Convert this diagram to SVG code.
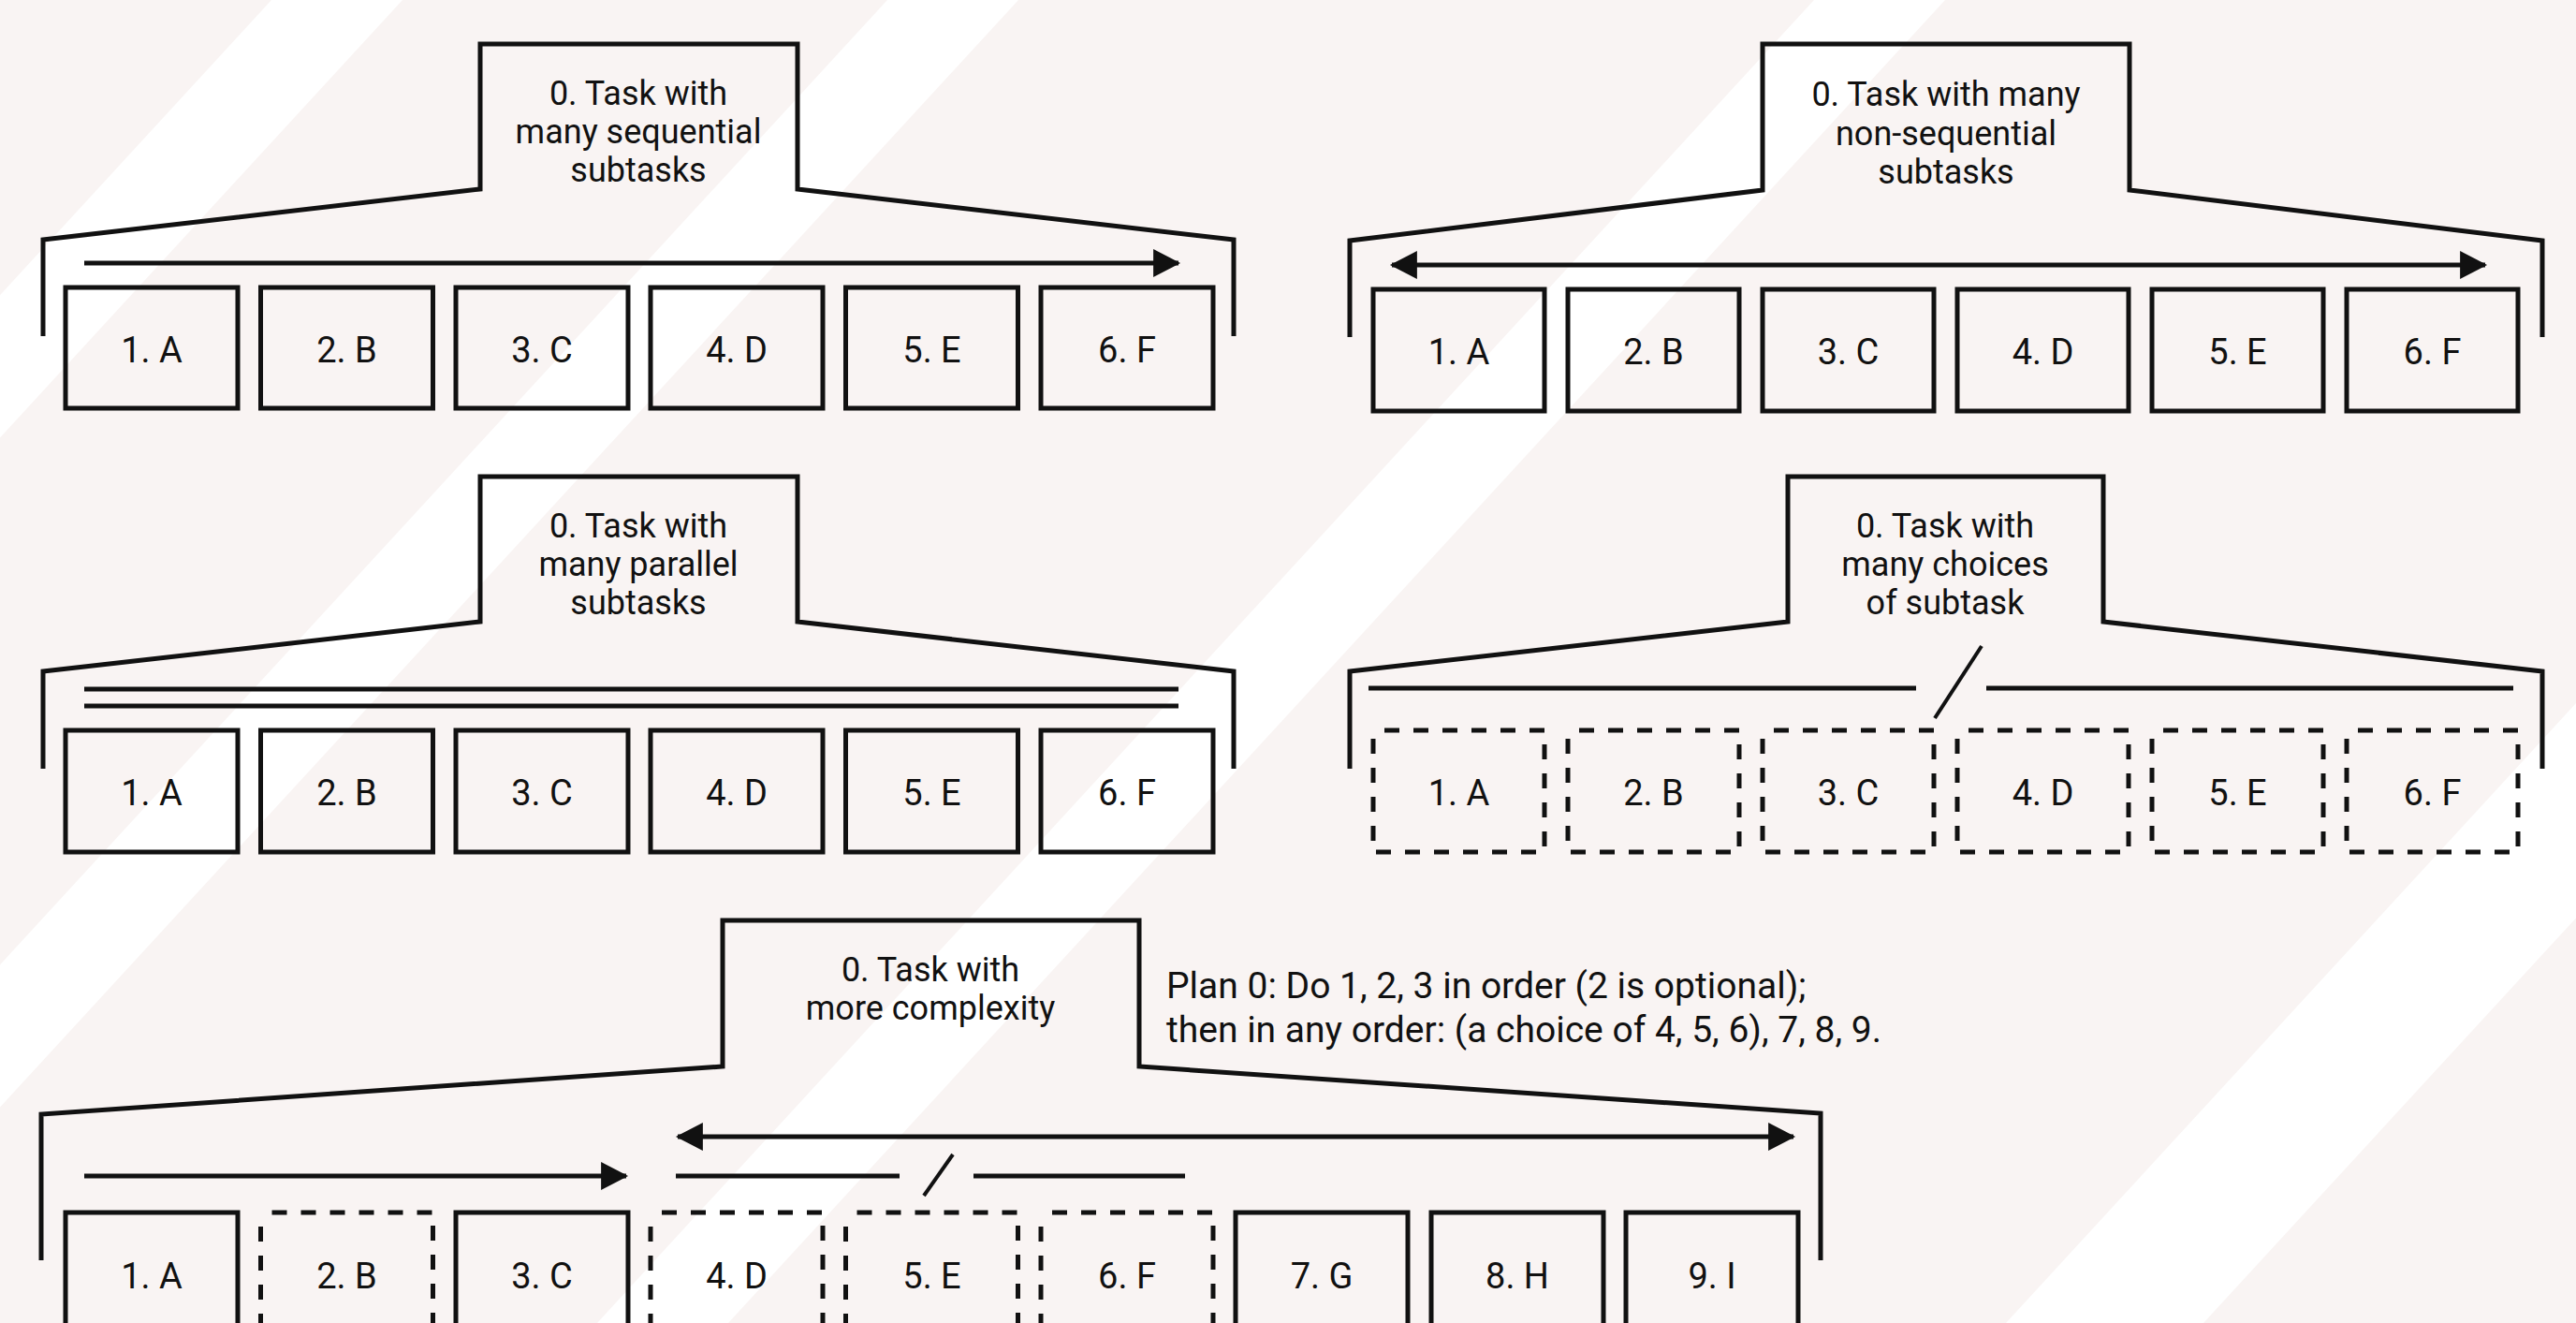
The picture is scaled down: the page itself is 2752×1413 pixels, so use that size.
<svg xmlns="http://www.w3.org/2000/svg" width="2752" height="1413" viewBox="0 0 2752 1413">
<style>
.ln{fill:none;stroke:#111;stroke-width:5;stroke-linejoin:miter}
.bx{fill:none;stroke:#111;stroke-width:5}
.dbx{fill:none;stroke:#111;stroke-width:5;stroke-dasharray:16 15;stroke-dashoffset:-12}
.sl{fill:none;stroke:#111;stroke-width:4}
.tt{font-family:Roboto,"Liberation Sans",sans-serif;font-size:36px;fill:#111;text-anchor:middle}
.lb{font-family:Roboto,"Liberation Sans",sans-serif;font-size:38px;fill:#111;text-anchor:middle}
.pl{font-family:Roboto,"Liberation Sans",sans-serif;font-size:39px;fill:#111}
.st{fill:#ffffff}
</style>
<defs>
<marker id="ah" markerUnits="userSpaceOnUse" markerWidth="30" markerHeight="30" viewBox="0 0 28 29" refX="26" refY="14.5" orient="auto-start-reverse">
<path d="M0,0 L28,14.5 L0,29 z" fill="#111"/>
</marker>
</defs>
<rect x="0" y="0" width="2752" height="1413" fill="#f9f4f3"/>
<g id="background-stripes">
<polygon class="st" points="290,0 430,0 -870,1413 -1010,1413"/>
<polygon class="st" points="948,0 1088,0 -212,1413 -352,1413"/>
<polygon class="st" points="1938,0 2078,0 778,1413 638,1413"/>
<polygon class="st" points="3443,0 3654,0 2354,1413 2143,1413"/>
</g>

<!-- Panel 1: sequential -->
<g id="p1-task">
<polyline class="ln" points="46,359 46,256 513,202 513,47 852,47 852,202 1318,256 1318,359"/>
<text class="tt" x="682" y="112">0. Task with</text>
<text class="tt" x="682" y="153">many sequential</text>
<text class="tt" x="682" y="194">subtasks</text>
</g>
<g id="p1-a"><rect class="bx" x="70" y="307" width="184" height="129"/><text class="lb" x="162" y="387">1. A</text></g>
<g id="p1-b"><rect class="bx" x="278.5" y="307" width="184" height="129"/><text class="lb" x="370.5" y="387">2. B</text></g>
<g id="p1-c"><rect class="bx" x="487" y="307" width="184" height="129"/><text class="lb" x="579" y="387">3. C</text></g>
<g id="p1-d"><rect class="bx" x="695" y="307" width="184" height="129"/><text class="lb" x="787" y="387">4. D</text></g>
<g id="p1-e"><rect class="bx" x="903.5" y="307" width="184" height="129"/><text class="lb" x="995.5" y="387">5. E</text></g>
<g id="p1-f"><rect class="bx" x="1112" y="307" width="184" height="129"/><text class="lb" x="1204" y="387">6. F</text></g>

<!-- Panel 2: non-sequential -->
<g id="p2-task">
<polyline class="ln" points="1442,360 1442,257 1883,203 1883,47 2275,47 2275,203 2716,257 2716,360"/>
<text class="tt" x="2079" y="113">0. Task with many</text>
<text class="tt" x="2079" y="155">non-sequential</text>
<text class="tt" x="2079" y="196">subtasks</text>
</g>
<g id="p2-a"><rect class="bx" x="1467" y="309" width="183" height="130"/><text class="lb" x="1558.5" y="389">1. A</text></g>
<g id="p2-b"><rect class="bx" x="1675" y="309" width="183" height="130"/><text class="lb" x="1766.5" y="389">2. B</text></g>
<g id="p2-c"><rect class="bx" x="1883" y="309" width="183" height="130"/><text class="lb" x="1974.5" y="389">3. C</text></g>
<g id="p2-d"><rect class="bx" x="2091" y="309" width="183" height="130"/><text class="lb" x="2182.5" y="389">4. D</text></g>
<g id="p2-e"><rect class="bx" x="2299" y="309" width="183" height="130"/><text class="lb" x="2390.5" y="389">5. E</text></g>
<g id="p2-f"><rect class="bx" x="2507" y="309" width="183" height="130"/><text class="lb" x="2598.5" y="389">6. F</text></g>

<!-- Panel 3: parallel -->
<g id="p3-task">
<polyline class="ln" points="46,821 46,717 513,664 513,509 852,509 852,664 1318,717 1318,821"/>
<text class="tt" x="682" y="574">0. Task with</text>
<text class="tt" x="682" y="615">many parallel</text>
<text class="tt" x="682" y="656">subtasks</text>
</g>
<g id="p3-a"><rect class="bx" x="70" y="780" width="184" height="130"/><text class="lb" x="162" y="860">1. A</text></g>
<g id="p3-b"><rect class="bx" x="278.5" y="780" width="184" height="130"/><text class="lb" x="370.5" y="860">2. B</text></g>
<g id="p3-c"><rect class="bx" x="487" y="780" width="184" height="130"/><text class="lb" x="579" y="860">3. C</text></g>
<g id="p3-d"><rect class="bx" x="695" y="780" width="184" height="130"/><text class="lb" x="787" y="860">4. D</text></g>
<g id="p3-e"><rect class="bx" x="903.5" y="780" width="184" height="130"/><text class="lb" x="995.5" y="860">5. E</text></g>
<g id="p3-f"><rect class="bx" x="1112" y="780" width="184" height="130"/><text class="lb" x="1204" y="860">6. F</text></g>

<!-- Panel 4: choices -->
<g id="p4-task">
<polyline class="ln" points="1442,821 1442,717 1910,664 1910,509 2247,509 2247,664 2716,717 2716,821"/>
<text class="tt" x="2078" y="574">0. Task with</text>
<text class="tt" x="2078" y="615">many choices</text>
<text class="tt" x="2078" y="656">of subtask</text>
</g>
<g id="p4-a"><rect class="dbx" x="1467" y="780" width="183" height="130"/><text class="lb" x="1558.5" y="860">1. A</text></g>
<g id="p4-b"><rect class="dbx" x="1675" y="780" width="183" height="130"/><text class="lb" x="1766.5" y="860">2. B</text></g>
<g id="p4-c"><rect class="dbx" x="1883" y="780" width="183" height="130"/><text class="lb" x="1974.5" y="860">3. C</text></g>
<g id="p4-d"><rect class="dbx" x="2091" y="780" width="183" height="130"/><text class="lb" x="2182.5" y="860">4. D</text></g>
<g id="p4-e"><rect class="dbx" x="2299" y="780" width="183" height="130"/><text class="lb" x="2390.5" y="860">5. E</text></g>
<g id="p4-f"><rect class="dbx" x="2507" y="780" width="183" height="130"/><text class="lb" x="2598.5" y="860">6. F</text></g>

<!-- Panel 5: complex -->
<g id="p5-task">
<polyline class="ln" points="44,1346 44,1190 772,1139 772,983 1217,983 1217,1139 1945,1189 1945,1346"/>
<text class="tt" x="994" y="1048">0. Task with</text>
<text class="tt" x="994" y="1089">more complexity</text>
</g>
<g id="p5-plan">
<text class="pl" x="1246" y="1066">Plan 0: Do 1, 2, 3 in order (2 is optional);</text>
<text class="pl" x="1246" y="1113">then in any order: (a choice of 4, 5, 6), 7, 8, 9.</text>
</g>
<g id="p5-a"><rect class="bx" x="70" y="1295" width="184" height="132"/><text class="lb" x="162" y="1376">1. A</text></g>
<g id="p5-b"><rect class="dbx" x="278.5" y="1295" width="184" height="132"/><text class="lb" x="370.5" y="1376">2. B</text></g>
<g id="p5-c"><rect class="bx" x="487" y="1295" width="184" height="132"/><text class="lb" x="579" y="1376">3. C</text></g>
<g id="p5-d"><rect class="dbx" x="695" y="1295" width="184" height="132"/><text class="lb" x="787" y="1376">4. D</text></g>
<g id="p5-e"><rect class="dbx" x="903.5" y="1295" width="184" height="132"/><text class="lb" x="995.5" y="1376">5. E</text></g>
<g id="p5-f"><rect class="dbx" x="1112" y="1295" width="184" height="132"/><text class="lb" x="1204" y="1376">6. F</text></g>
<g id="p5-g"><rect class="bx" x="1320" y="1295" width="184" height="132"/><text class="lb" x="1412" y="1376">7. G</text></g>
<g id="p5-h"><rect class="bx" x="1529" y="1295" width="184" height="132"/><text class="lb" x="1621" y="1376">8. H</text></g>
<g id="p5-i"><rect class="bx" x="1737" y="1295" width="184" height="132"/><text class="lb" x="1829" y="1376">9. I</text></g>

<g id="connectors">
<line class="ln" x1="90" y1="281" x2="1259" y2="281" marker-end="url(#ah)"/>
<line class="ln" x1="1487" y1="283" x2="2655" y2="283" marker-start="url(#ah)" marker-end="url(#ah)"/>
<line class="ln" x1="90" y1="736" x2="1259" y2="736"/>
<line class="ln" x1="90" y1="754" x2="1259" y2="754"/>
<line class="ln" x1="1462" y1="735" x2="2047" y2="735"/>
<line class="ln" x1="2122" y1="735" x2="2685" y2="735"/>
<line class="sl" x1="2117" y1="690" x2="2067" y2="767"/>
<line class="ln" x1="724" y1="1214" x2="1916" y2="1214" marker-start="url(#ah)" marker-end="url(#ah)"/>
<line class="ln" x1="90" y1="1256" x2="669" y2="1256" marker-end="url(#ah)"/>
<line class="ln" x1="722" y1="1256" x2="961" y2="1256"/>
<line class="ln" x1="1040" y1="1256" x2="1266" y2="1256"/>
<line class="sl" x1="1018" y1="1233" x2="987" y2="1277"/>
</g>
</svg>
